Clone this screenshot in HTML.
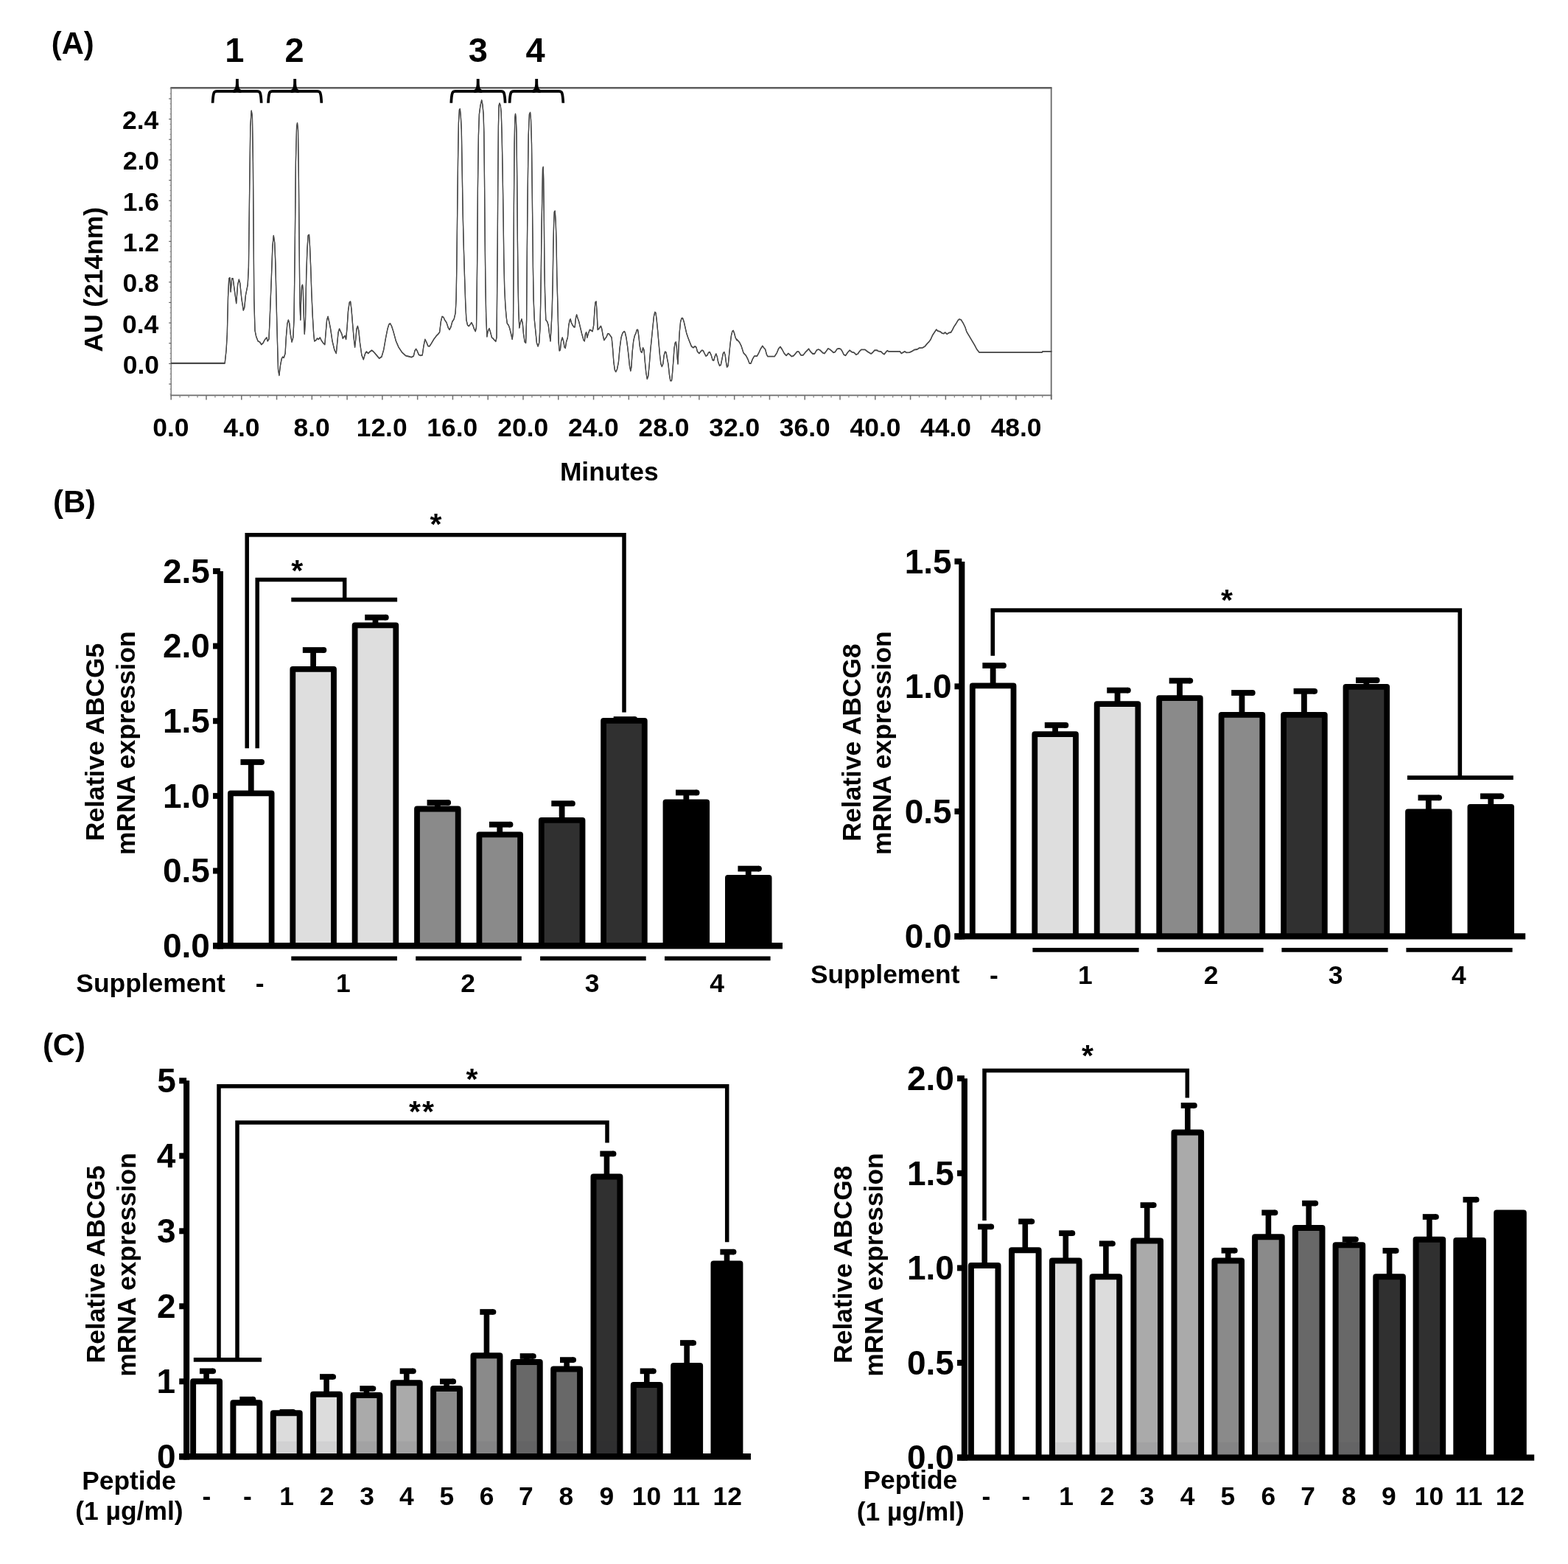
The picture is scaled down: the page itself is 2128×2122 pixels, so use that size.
<!DOCTYPE html>
<html><head><meta charset="utf-8"><title>Figure</title>
<style>
html,body{margin:0;padding:0;background:#fff;}
svg{display:block;}
text{font-family:"Liberation Sans", Arial, Helvetica, sans-serif;font-weight:bold;fill:#000;}
</style></head>
<body>
<svg width="2128" height="2122" viewBox="0 0 2128 2122">
<rect x="0" y="0" width="2128" height="2122" fill="#fff"/>
<line x1="231.35" y1="119.25" x2="1427.60" y2="119.25" stroke="#5e5e5e" stroke-width="2.5"/>
<line x1="232.20" y1="119.25" x2="232.20" y2="537.30" stroke="#707070" stroke-width="1.35"/>
<line x1="231.35" y1="536.40" x2="1427.60" y2="536.40" stroke="#6c6c6c" stroke-width="1.9"/>
<line x1="1426.70" y1="119.25" x2="1426.70" y2="541.90" stroke="#6a6a6a" stroke-width="1.8"/>
<line x1="229.20" y1="521.05" x2="232.20" y2="521.05" stroke="#606060" stroke-width="1.2"/>
<line x1="230.60" y1="514.14" x2="232.20" y2="514.14" stroke="#888" stroke-width="1.0"/>
<line x1="230.60" y1="507.22" x2="232.20" y2="507.22" stroke="#888" stroke-width="1.0"/>
<line x1="230.60" y1="500.31" x2="232.20" y2="500.31" stroke="#888" stroke-width="1.0"/>
<line x1="229.20" y1="493.40" x2="232.20" y2="493.40" stroke="#606060" stroke-width="1.2"/>
<line x1="230.60" y1="486.49" x2="232.20" y2="486.49" stroke="#888" stroke-width="1.0"/>
<line x1="230.60" y1="479.57" x2="232.20" y2="479.57" stroke="#888" stroke-width="1.0"/>
<line x1="230.60" y1="472.66" x2="232.20" y2="472.66" stroke="#888" stroke-width="1.0"/>
<line x1="229.20" y1="465.75" x2="232.20" y2="465.75" stroke="#606060" stroke-width="1.2"/>
<line x1="230.60" y1="458.84" x2="232.20" y2="458.84" stroke="#888" stroke-width="1.0"/>
<line x1="230.60" y1="451.93" x2="232.20" y2="451.93" stroke="#888" stroke-width="1.0"/>
<line x1="230.60" y1="445.01" x2="232.20" y2="445.01" stroke="#888" stroke-width="1.0"/>
<line x1="229.20" y1="438.10" x2="232.20" y2="438.10" stroke="#606060" stroke-width="1.2"/>
<line x1="230.60" y1="431.19" x2="232.20" y2="431.19" stroke="#888" stroke-width="1.0"/>
<line x1="230.60" y1="424.27" x2="232.20" y2="424.27" stroke="#888" stroke-width="1.0"/>
<line x1="230.60" y1="417.36" x2="232.20" y2="417.36" stroke="#888" stroke-width="1.0"/>
<line x1="229.20" y1="410.45" x2="232.20" y2="410.45" stroke="#606060" stroke-width="1.2"/>
<line x1="230.60" y1="403.54" x2="232.20" y2="403.54" stroke="#888" stroke-width="1.0"/>
<line x1="230.60" y1="396.62" x2="232.20" y2="396.62" stroke="#888" stroke-width="1.0"/>
<line x1="230.60" y1="389.71" x2="232.20" y2="389.71" stroke="#888" stroke-width="1.0"/>
<line x1="229.20" y1="382.80" x2="232.20" y2="382.80" stroke="#606060" stroke-width="1.2"/>
<line x1="230.60" y1="375.89" x2="232.20" y2="375.89" stroke="#888" stroke-width="1.0"/>
<line x1="230.60" y1="368.97" x2="232.20" y2="368.97" stroke="#888" stroke-width="1.0"/>
<line x1="230.60" y1="362.06" x2="232.20" y2="362.06" stroke="#888" stroke-width="1.0"/>
<line x1="229.20" y1="355.15" x2="232.20" y2="355.15" stroke="#606060" stroke-width="1.2"/>
<line x1="230.60" y1="348.24" x2="232.20" y2="348.24" stroke="#888" stroke-width="1.0"/>
<line x1="230.60" y1="341.32" x2="232.20" y2="341.32" stroke="#888" stroke-width="1.0"/>
<line x1="230.60" y1="334.41" x2="232.20" y2="334.41" stroke="#888" stroke-width="1.0"/>
<line x1="229.20" y1="327.50" x2="232.20" y2="327.50" stroke="#606060" stroke-width="1.2"/>
<line x1="230.60" y1="320.59" x2="232.20" y2="320.59" stroke="#888" stroke-width="1.0"/>
<line x1="230.60" y1="313.68" x2="232.20" y2="313.68" stroke="#888" stroke-width="1.0"/>
<line x1="230.60" y1="306.76" x2="232.20" y2="306.76" stroke="#888" stroke-width="1.0"/>
<line x1="229.20" y1="299.85" x2="232.20" y2="299.85" stroke="#606060" stroke-width="1.2"/>
<line x1="230.60" y1="292.94" x2="232.20" y2="292.94" stroke="#888" stroke-width="1.0"/>
<line x1="230.60" y1="286.03" x2="232.20" y2="286.03" stroke="#888" stroke-width="1.0"/>
<line x1="230.60" y1="279.11" x2="232.20" y2="279.11" stroke="#888" stroke-width="1.0"/>
<line x1="229.20" y1="272.20" x2="232.20" y2="272.20" stroke="#606060" stroke-width="1.2"/>
<line x1="230.60" y1="265.29" x2="232.20" y2="265.29" stroke="#888" stroke-width="1.0"/>
<line x1="230.60" y1="258.38" x2="232.20" y2="258.38" stroke="#888" stroke-width="1.0"/>
<line x1="230.60" y1="251.46" x2="232.20" y2="251.46" stroke="#888" stroke-width="1.0"/>
<line x1="229.20" y1="244.55" x2="232.20" y2="244.55" stroke="#606060" stroke-width="1.2"/>
<line x1="230.60" y1="237.64" x2="232.20" y2="237.64" stroke="#888" stroke-width="1.0"/>
<line x1="230.60" y1="230.72" x2="232.20" y2="230.72" stroke="#888" stroke-width="1.0"/>
<line x1="230.60" y1="223.81" x2="232.20" y2="223.81" stroke="#888" stroke-width="1.0"/>
<line x1="229.20" y1="216.90" x2="232.20" y2="216.90" stroke="#606060" stroke-width="1.2"/>
<line x1="230.60" y1="209.99" x2="232.20" y2="209.99" stroke="#888" stroke-width="1.0"/>
<line x1="230.60" y1="203.07" x2="232.20" y2="203.07" stroke="#888" stroke-width="1.0"/>
<line x1="230.60" y1="196.16" x2="232.20" y2="196.16" stroke="#888" stroke-width="1.0"/>
<line x1="229.20" y1="189.25" x2="232.20" y2="189.25" stroke="#606060" stroke-width="1.2"/>
<line x1="230.60" y1="182.34" x2="232.20" y2="182.34" stroke="#888" stroke-width="1.0"/>
<line x1="230.60" y1="175.43" x2="232.20" y2="175.43" stroke="#888" stroke-width="1.0"/>
<line x1="230.60" y1="168.51" x2="232.20" y2="168.51" stroke="#888" stroke-width="1.0"/>
<line x1="229.20" y1="161.60" x2="232.20" y2="161.60" stroke="#606060" stroke-width="1.2"/>
<line x1="230.60" y1="154.69" x2="232.20" y2="154.69" stroke="#888" stroke-width="1.0"/>
<line x1="230.60" y1="147.78" x2="232.20" y2="147.78" stroke="#888" stroke-width="1.0"/>
<line x1="230.60" y1="140.86" x2="232.20" y2="140.86" stroke="#888" stroke-width="1.0"/>
<line x1="229.20" y1="133.95" x2="232.20" y2="133.95" stroke="#606060" stroke-width="1.2"/>
<line x1="230.60" y1="127.04" x2="232.20" y2="127.04" stroke="#888" stroke-width="1.0"/>
<line x1="230.60" y1="120.12" x2="232.20" y2="120.12" stroke="#888" stroke-width="1.0"/>
<line x1="230.60" y1="527.96" x2="232.20" y2="527.96" stroke="#888" stroke-width="1.0"/>
<line x1="230.60" y1="534.88" x2="232.20" y2="534.88" stroke="#888" stroke-width="1.0"/>
<line x1="232.20" y1="536.40" x2="232.20" y2="542.40" stroke="#707070" stroke-width="1.5"/>
<line x1="244.14" y1="536.40" x2="244.14" y2="539.40" stroke="#858585" stroke-width="1.2"/>
<line x1="256.09" y1="536.40" x2="256.09" y2="539.40" stroke="#858585" stroke-width="1.2"/>
<line x1="268.03" y1="536.40" x2="268.03" y2="539.40" stroke="#858585" stroke-width="1.2"/>
<line x1="279.98" y1="536.40" x2="279.98" y2="542.40" stroke="#707070" stroke-width="1.5"/>
<line x1="291.93" y1="536.40" x2="291.93" y2="539.40" stroke="#858585" stroke-width="1.2"/>
<line x1="303.87" y1="536.40" x2="303.87" y2="539.40" stroke="#858585" stroke-width="1.2"/>
<line x1="315.81" y1="536.40" x2="315.81" y2="539.40" stroke="#858585" stroke-width="1.2"/>
<line x1="327.76" y1="536.40" x2="327.76" y2="542.40" stroke="#707070" stroke-width="1.5"/>
<line x1="339.70" y1="536.40" x2="339.70" y2="539.40" stroke="#858585" stroke-width="1.2"/>
<line x1="351.65" y1="536.40" x2="351.65" y2="539.40" stroke="#858585" stroke-width="1.2"/>
<line x1="363.60" y1="536.40" x2="363.60" y2="539.40" stroke="#858585" stroke-width="1.2"/>
<line x1="375.54" y1="536.40" x2="375.54" y2="542.40" stroke="#707070" stroke-width="1.5"/>
<line x1="387.49" y1="536.40" x2="387.49" y2="539.40" stroke="#858585" stroke-width="1.2"/>
<line x1="399.43" y1="536.40" x2="399.43" y2="539.40" stroke="#858585" stroke-width="1.2"/>
<line x1="411.38" y1="536.40" x2="411.38" y2="539.40" stroke="#858585" stroke-width="1.2"/>
<line x1="423.32" y1="536.40" x2="423.32" y2="542.40" stroke="#707070" stroke-width="1.5"/>
<line x1="435.26" y1="536.40" x2="435.26" y2="539.40" stroke="#858585" stroke-width="1.2"/>
<line x1="447.21" y1="536.40" x2="447.21" y2="539.40" stroke="#858585" stroke-width="1.2"/>
<line x1="459.15" y1="536.40" x2="459.15" y2="539.40" stroke="#858585" stroke-width="1.2"/>
<line x1="471.10" y1="536.40" x2="471.10" y2="542.40" stroke="#707070" stroke-width="1.5"/>
<line x1="483.04" y1="536.40" x2="483.04" y2="539.40" stroke="#858585" stroke-width="1.2"/>
<line x1="494.99" y1="536.40" x2="494.99" y2="539.40" stroke="#858585" stroke-width="1.2"/>
<line x1="506.94" y1="536.40" x2="506.94" y2="539.40" stroke="#858585" stroke-width="1.2"/>
<line x1="518.88" y1="536.40" x2="518.88" y2="542.40" stroke="#707070" stroke-width="1.5"/>
<line x1="530.83" y1="536.40" x2="530.83" y2="539.40" stroke="#858585" stroke-width="1.2"/>
<line x1="542.77" y1="536.40" x2="542.77" y2="539.40" stroke="#858585" stroke-width="1.2"/>
<line x1="554.71" y1="536.40" x2="554.71" y2="539.40" stroke="#858585" stroke-width="1.2"/>
<line x1="566.66" y1="536.40" x2="566.66" y2="542.40" stroke="#707070" stroke-width="1.5"/>
<line x1="578.61" y1="536.40" x2="578.61" y2="539.40" stroke="#858585" stroke-width="1.2"/>
<line x1="590.55" y1="536.40" x2="590.55" y2="539.40" stroke="#858585" stroke-width="1.2"/>
<line x1="602.50" y1="536.40" x2="602.50" y2="539.40" stroke="#858585" stroke-width="1.2"/>
<line x1="614.44" y1="536.40" x2="614.44" y2="542.40" stroke="#707070" stroke-width="1.5"/>
<line x1="626.38" y1="536.40" x2="626.38" y2="539.40" stroke="#858585" stroke-width="1.2"/>
<line x1="638.33" y1="536.40" x2="638.33" y2="539.40" stroke="#858585" stroke-width="1.2"/>
<line x1="650.27" y1="536.40" x2="650.27" y2="539.40" stroke="#858585" stroke-width="1.2"/>
<line x1="662.22" y1="536.40" x2="662.22" y2="542.40" stroke="#707070" stroke-width="1.5"/>
<line x1="674.16" y1="536.40" x2="674.16" y2="539.40" stroke="#858585" stroke-width="1.2"/>
<line x1="686.11" y1="536.40" x2="686.11" y2="539.40" stroke="#858585" stroke-width="1.2"/>
<line x1="698.06" y1="536.40" x2="698.06" y2="539.40" stroke="#858585" stroke-width="1.2"/>
<line x1="710.00" y1="536.40" x2="710.00" y2="542.40" stroke="#707070" stroke-width="1.5"/>
<line x1="721.94" y1="536.40" x2="721.94" y2="539.40" stroke="#858585" stroke-width="1.2"/>
<line x1="733.89" y1="536.40" x2="733.89" y2="539.40" stroke="#858585" stroke-width="1.2"/>
<line x1="745.84" y1="536.40" x2="745.84" y2="539.40" stroke="#858585" stroke-width="1.2"/>
<line x1="757.78" y1="536.40" x2="757.78" y2="542.40" stroke="#707070" stroke-width="1.5"/>
<line x1="769.72" y1="536.40" x2="769.72" y2="539.40" stroke="#858585" stroke-width="1.2"/>
<line x1="781.67" y1="536.40" x2="781.67" y2="539.40" stroke="#858585" stroke-width="1.2"/>
<line x1="793.62" y1="536.40" x2="793.62" y2="539.40" stroke="#858585" stroke-width="1.2"/>
<line x1="805.56" y1="536.40" x2="805.56" y2="542.40" stroke="#707070" stroke-width="1.5"/>
<line x1="817.51" y1="536.40" x2="817.51" y2="539.40" stroke="#858585" stroke-width="1.2"/>
<line x1="829.45" y1="536.40" x2="829.45" y2="539.40" stroke="#858585" stroke-width="1.2"/>
<line x1="841.39" y1="536.40" x2="841.39" y2="539.40" stroke="#858585" stroke-width="1.2"/>
<line x1="853.34" y1="536.40" x2="853.34" y2="542.40" stroke="#707070" stroke-width="1.5"/>
<line x1="865.29" y1="536.40" x2="865.29" y2="539.40" stroke="#858585" stroke-width="1.2"/>
<line x1="877.23" y1="536.40" x2="877.23" y2="539.40" stroke="#858585" stroke-width="1.2"/>
<line x1="889.17" y1="536.40" x2="889.17" y2="539.40" stroke="#858585" stroke-width="1.2"/>
<line x1="901.12" y1="536.40" x2="901.12" y2="542.40" stroke="#707070" stroke-width="1.5"/>
<line x1="913.07" y1="536.40" x2="913.07" y2="539.40" stroke="#858585" stroke-width="1.2"/>
<line x1="925.01" y1="536.40" x2="925.01" y2="539.40" stroke="#858585" stroke-width="1.2"/>
<line x1="936.95" y1="536.40" x2="936.95" y2="539.40" stroke="#858585" stroke-width="1.2"/>
<line x1="948.90" y1="536.40" x2="948.90" y2="542.40" stroke="#707070" stroke-width="1.5"/>
<line x1="960.85" y1="536.40" x2="960.85" y2="539.40" stroke="#858585" stroke-width="1.2"/>
<line x1="972.79" y1="536.40" x2="972.79" y2="539.40" stroke="#858585" stroke-width="1.2"/>
<line x1="984.73" y1="536.40" x2="984.73" y2="539.40" stroke="#858585" stroke-width="1.2"/>
<line x1="996.68" y1="536.40" x2="996.68" y2="542.40" stroke="#707070" stroke-width="1.5"/>
<line x1="1008.62" y1="536.40" x2="1008.62" y2="539.40" stroke="#858585" stroke-width="1.2"/>
<line x1="1020.57" y1="536.40" x2="1020.57" y2="539.40" stroke="#858585" stroke-width="1.2"/>
<line x1="1032.52" y1="536.40" x2="1032.52" y2="539.40" stroke="#858585" stroke-width="1.2"/>
<line x1="1044.46" y1="536.40" x2="1044.46" y2="542.40" stroke="#707070" stroke-width="1.5"/>
<line x1="1056.40" y1="536.40" x2="1056.40" y2="539.40" stroke="#858585" stroke-width="1.2"/>
<line x1="1068.35" y1="536.40" x2="1068.35" y2="539.40" stroke="#858585" stroke-width="1.2"/>
<line x1="1080.30" y1="536.40" x2="1080.30" y2="539.40" stroke="#858585" stroke-width="1.2"/>
<line x1="1092.24" y1="536.40" x2="1092.24" y2="542.40" stroke="#707070" stroke-width="1.5"/>
<line x1="1104.18" y1="536.40" x2="1104.18" y2="539.40" stroke="#858585" stroke-width="1.2"/>
<line x1="1116.13" y1="536.40" x2="1116.13" y2="539.40" stroke="#858585" stroke-width="1.2"/>
<line x1="1128.08" y1="536.40" x2="1128.08" y2="539.40" stroke="#858585" stroke-width="1.2"/>
<line x1="1140.02" y1="536.40" x2="1140.02" y2="542.40" stroke="#707070" stroke-width="1.5"/>
<line x1="1151.96" y1="536.40" x2="1151.96" y2="539.40" stroke="#858585" stroke-width="1.2"/>
<line x1="1163.91" y1="536.40" x2="1163.91" y2="539.40" stroke="#858585" stroke-width="1.2"/>
<line x1="1175.86" y1="536.40" x2="1175.86" y2="539.40" stroke="#858585" stroke-width="1.2"/>
<line x1="1187.80" y1="536.40" x2="1187.80" y2="542.40" stroke="#707070" stroke-width="1.5"/>
<line x1="1199.75" y1="536.40" x2="1199.75" y2="539.40" stroke="#858585" stroke-width="1.2"/>
<line x1="1211.69" y1="536.40" x2="1211.69" y2="539.40" stroke="#858585" stroke-width="1.2"/>
<line x1="1223.63" y1="536.40" x2="1223.63" y2="539.40" stroke="#858585" stroke-width="1.2"/>
<line x1="1235.58" y1="536.40" x2="1235.58" y2="542.40" stroke="#707070" stroke-width="1.5"/>
<line x1="1247.53" y1="536.40" x2="1247.53" y2="539.40" stroke="#858585" stroke-width="1.2"/>
<line x1="1259.47" y1="536.40" x2="1259.47" y2="539.40" stroke="#858585" stroke-width="1.2"/>
<line x1="1271.41" y1="536.40" x2="1271.41" y2="539.40" stroke="#858585" stroke-width="1.2"/>
<line x1="1283.36" y1="536.40" x2="1283.36" y2="542.40" stroke="#707070" stroke-width="1.5"/>
<line x1="1295.31" y1="536.40" x2="1295.31" y2="539.40" stroke="#858585" stroke-width="1.2"/>
<line x1="1307.25" y1="536.40" x2="1307.25" y2="539.40" stroke="#858585" stroke-width="1.2"/>
<line x1="1319.20" y1="536.40" x2="1319.20" y2="539.40" stroke="#858585" stroke-width="1.2"/>
<line x1="1331.14" y1="536.40" x2="1331.14" y2="542.40" stroke="#707070" stroke-width="1.5"/>
<line x1="1343.09" y1="536.40" x2="1343.09" y2="539.40" stroke="#858585" stroke-width="1.2"/>
<line x1="1355.03" y1="536.40" x2="1355.03" y2="539.40" stroke="#858585" stroke-width="1.2"/>
<line x1="1366.98" y1="536.40" x2="1366.98" y2="539.40" stroke="#858585" stroke-width="1.2"/>
<line x1="1378.92" y1="536.40" x2="1378.92" y2="542.40" stroke="#707070" stroke-width="1.5"/>
<line x1="1390.87" y1="536.40" x2="1390.87" y2="539.40" stroke="#858585" stroke-width="1.2"/>
<line x1="1402.81" y1="536.40" x2="1402.81" y2="539.40" stroke="#858585" stroke-width="1.2"/>
<line x1="1414.76" y1="536.40" x2="1414.76" y2="539.40" stroke="#858585" stroke-width="1.2"/>
<line x1="1426.70" y1="536.40" x2="1426.70" y2="542.40" stroke="#707070" stroke-width="1.5"/>
<polyline points="231.9,492.3 305.2,492.3 307.1,474.4 308.3,452.9 309.5,402.8 310.7,377.7 311.9,376.5 313.1,395.6 314.7,377.7 316.2,377.7 317.9,390.9 320.7,411.2 322.6,386.1 324.3,378.9 325.7,383.7 327.9,405.2 330.3,420.7 331.7,417.1 333.4,400.4 336.2,386.1 337.4,362.2 338.6,262.0 339.8,171.3 341.2,149.8 342.4,157.0 343.4,219.0 344.1,314.5 344.8,405.2 346.0,448.1 347.7,456.5 350.1,462.5 352.5,463.7 354.8,467.2 357.2,464.9 358.9,461.3 360.8,458.9 362.0,457.7 363.2,462.5 364.9,460.1 366.1,433.8 368.0,386.1 369.9,333.6 371.3,319.3 372.7,328.8 373.9,357.5 375.1,410.0 376.3,457.7 377.5,500.7 378.9,509.0 380.4,495.9 382.3,486.3 383.7,483.9 385.2,485.1 387.1,479.2 388.3,457.7 389.9,438.6 391.4,433.8 392.8,438.6 394.2,452.9 396.1,463.7 397.8,457.7 399.0,433.8 400.2,338.4 401.4,219.0 402.6,171.3 403.5,166.5 404.5,176.1 405.4,242.9 406.2,338.4 406.9,410.0 407.8,433.8 408.5,410.0 409.5,388.5 410.5,386.1 411.4,393.3 412.1,421.9 413.3,452.9 414.5,433.8 415.7,374.2 416.9,338.4 418.1,319.3 419.5,318.1 420.5,333.6 421.7,362.2 422.9,398.0 424.3,429.1 425.7,452.9 426.7,462.5 428.8,461.3 430.5,458.9 432.4,460.1 434.3,457.7 436.0,461.3 438.4,464.9 440.8,467.2 442.0,452.9 443.6,433.8 445.1,429.1 446.7,436.2 448.6,445.8 451.0,462.5 453.9,474.4 456.3,479.2 457.5,467.2 459.1,450.5 460.6,445.8 462.2,449.3 463.9,452.9 465.3,458.9 467.0,456.5 468.2,455.3 469.6,460.1 471.1,443.4 472.5,421.9 474.2,410.0 475.6,408.8 477.0,419.5 478.5,438.6 480.1,457.7 481.6,470.8 482.5,462.5 484.0,445.8 485.4,442.2 486.8,448.1 488.5,464.9 490.9,481.6 493.3,487.5 495.7,479.2 497.3,476.8 499.7,479.2 502.1,476.8 504.5,474.9 506.9,476.8 510.0,480.4 514.7,485.9 517.9,483.9 520.7,474.4 523.6,457.7 526.0,445.8 527.9,439.8 529.5,438.6 531.5,442.2 533.8,449.3 537.4,462.5 541.0,470.8 545.8,478.0 550.5,482.3 554.1,483.2 558.4,484.4 561.3,482.8 563.0,475.6 564.6,473.2 566.1,475.6 568.4,481.1 570.8,482.0 573.2,481.6 574.9,469.6 576.8,460.1 578.7,463.7 580.9,469.2 582.8,469.6 585.2,466.0 588.7,460.1 592.3,455.3 594.7,452.9 596.6,450.5 598.3,436.2 600.0,429.1 601.9,430.2 603.6,433.8 606.0,437.4 608.4,444.6 610.0,447.0 611.9,443.4 613.8,436.2 616.2,432.6 618.1,424.3 619.1,405.2 619.8,362.2 620.5,302.6 621.5,219.0 622.4,166.5 623.4,148.6 624.3,147.4 625.3,157.0 626.3,176.1 627.2,231.0 628.2,290.6 629.4,338.4 630.5,374.2 631.7,410.0 632.9,433.8 634.6,441.0 636.3,442.2 638.2,439.8 639.9,437.4 641.8,441.0 643.4,445.8 645.3,449.3 646.5,443.4 647.0,410.0 647.7,350.3 648.4,254.8 649.4,183.2 650.4,154.6 652.0,142.7 653.7,135.5 654.9,141.5 656.1,154.6 656.8,178.5 657.5,242.9 658.2,326.4 658.9,386.1 659.7,429.1 660.9,456.5 662.1,449.3 664.0,445.3 665.6,450.5 667.5,457.7 669.2,458.9 671.1,461.3 672.8,462.9 674.0,457.7 674.5,410.0 675.2,333.6 675.7,254.8 676.4,171.3 677.1,142.7 678.0,139.8 679.2,142.7 680.2,152.2 681.1,180.8 682.1,231.0 683.1,295.4 683.8,350.3 684.7,390.9 685.9,414.7 687.1,429.1 688.3,438.6 690.2,441.0 691.9,445.8 693.6,452.9 695.2,460.1 696.4,450.5 696.9,386.1 697.4,278.7 698.1,195.2 698.8,159.4 699.5,154.1 700.2,159.4 701.0,178.5 701.7,242.9 702.4,326.4 703.1,386.1 703.8,421.9 704.8,444.6 706.2,437.4 707.9,432.6 709.3,438.6 710.5,452.9 712.2,463.7 713.6,464.9 714.6,433.8 715.3,343.1 716.2,254.8 717.2,183.2 718.4,154.6 719.6,152.2 720.5,161.8 721.5,195.2 722.2,254.8 722.9,314.5 723.4,362.2 724.1,405.2 725.3,433.8 727.0,450.5 728.4,464.9 730.1,469.6 731.7,464.9 732.9,445.8 733.7,410.0 734.4,362.2 735.1,302.6 735.8,266.8 736.5,228.6 737.2,226.2 737.7,242.9 738.4,302.6 738.9,362.2 739.6,398.0 740.8,433.8 742.7,436.2 744.2,441.0 745.6,452.9 747.0,462.5 748.0,445.8 749.2,421.9 750.1,386.1 750.8,338.4 751.6,302.6 752.3,287.1 753.2,285.9 754.2,300.2 755.1,328.8 755.8,374.2 756.8,410.0 757.5,438.6 758.2,464.9 759.2,475.6 760.4,474.4 761.6,462.5 763.2,457.7 764.7,462.5 766.1,470.8 767.3,472.0 768.5,463.7 770.4,457.7 771.8,441.0 773.3,433.8 774.2,432.6 775.4,437.4 777.1,441.0 779.0,443.4 780.2,443.4 781.4,431.4 782.6,426.7 784.0,431.4 785.7,436.2 787.4,443.4 789.7,452.9 792.1,461.3 793.3,462.5 794.5,452.9 795.7,450.5 796.9,457.7 798.6,451.7 800.5,447.0 802.4,448.1 804.1,449.3 805.7,441.0 806.9,421.9 807.9,410.0 809.1,408.8 810.0,421.9 811.2,447.0 812.9,445.8 814.3,443.4 815.5,442.2 816.7,445.8 818.4,455.3 819.8,461.3 821.5,458.9 823.2,456.5 824.8,452.4 826.7,452.9 828.4,455.3 830.1,457.7 831.5,472.0 832.9,491.1 834.4,501.8 835.8,504.2 837.5,500.7 839.4,491.1 841.1,472.0 843.0,457.7 844.9,451.7 847.0,449.3 848.2,450.5 849.9,457.7 851.6,469.6 853.0,481.6 854.4,495.9 855.8,503.0 856.8,498.3 858.2,476.8 859.7,462.5 861.3,455.3 863.0,451.7 864.4,447.0 865.6,447.0 866.8,455.3 868.3,469.6 869.7,476.8 871.1,478.0 872.6,471.5 874.0,474.4 875.4,491.1 876.8,505.4 878.3,513.8 879.7,510.2 881.1,495.9 882.8,474.4 884.5,457.7 885.9,443.4 887.4,429.1 888.8,423.1 890.0,424.3 891.2,433.8 892.6,448.1 894.0,464.9 895.5,481.6 896.9,493.5 898.3,497.1 899.8,493.5 901.2,481.6 902.6,476.8 904.1,478.0 905.5,486.3 906.9,493.5 908.4,507.8 909.8,516.2 911.5,516.2 912.6,505.4 914.1,486.3 915.0,472.0 916.2,464.9 917.4,463.7 918.4,472.0 919.3,486.3 920.0,493.5 921.0,472.0 922.2,450.5 923.6,436.2 925.1,431.4 926.5,431.4 928.2,436.2 929.8,443.4 931.7,451.7 933.7,457.7 936.0,463.7 938.4,469.6 940.8,471.5 943.2,469.6 944.9,470.8 946.5,476.8 948.9,479.2 950.8,476.8 952.7,474.9 954.4,475.6 956.1,479.2 958.0,482.8 959.9,481.6 961.6,478.0 963.2,477.3 965.2,481.6 967.1,488.2 968.7,488.7 970.4,482.8 971.8,479.7 973.3,483.9 974.7,491.1 976.6,495.9 978.3,494.7 980.0,486.3 981.4,479.2 982.8,477.3 984.2,481.6 985.4,491.1 986.6,497.8 988.1,495.9 989.5,481.6 990.9,467.2 992.4,455.3 993.8,449.3 995.2,448.1 996.7,452.4 998.1,457.7 1000.0,461.3 1000.0,460.2 1003.6,464.2 1006.0,469.0 1009.0,478.5 1012.4,482.1 1014.8,486.8 1017.1,492.8 1019.0,492.8 1021.4,486.8 1023.8,482.8 1027.4,482.8 1029.8,478.5 1032.1,473.3 1034.8,469.0 1036.9,471.8 1038.6,473.7 1040.5,480.9 1041.9,483.3 1051.2,483.3 1054.3,478.5 1056.7,472.6 1059.0,470.2 1061.4,473.7 1064.3,479.2 1067.1,482.1 1069.8,479.2 1071.9,480.9 1074.3,483.3 1076.7,482.6 1079.0,480.2 1081.7,476.8 1084.0,476.8 1086.9,481.6 1090.0,481.6 1092.9,477.8 1095.2,475.4 1097.6,473.0 1100.0,476.8 1102.9,479.7 1105.5,479.7 1108.3,474.9 1110.7,473.7 1113.1,474.9 1116.7,478.5 1119.0,479.2 1121.4,476.1 1123.8,472.6 1126.2,473.7 1128.6,475.7 1131.0,478.0 1133.3,477.3 1136.2,473.0 1138.6,472.6 1141.0,473.3 1142.9,476.1 1145.2,480.9 1147.6,482.1 1150.5,477.8 1153.1,474.9 1156.0,477.3 1159.0,478.0 1161.9,480.9 1164.3,479.7 1166.7,476.1 1169.0,474.0 1173.8,474.0 1177.4,476.8 1182.1,479.7 1184.5,477.8 1186.9,474.9 1190.5,474.9 1191.7,476.1 1195.7,476.8 1198.1,479.2 1200.0,480.4 1202.4,477.3 1204.3,475.4 1206.0,476.6 1221.4,476.6 1223.3,479.2 1225.7,477.8 1227.9,476.6 1229.8,478.0 1234.5,477.8 1238.1,476.1 1241.0,474.2 1244.8,473.7 1247.6,471.8 1251.9,471.6 1255.2,469.7 1258.3,465.9 1260.7,463.5 1263.1,460.2 1265.5,454.7 1267.9,451.1 1270.7,446.8 1272.6,448.7 1275.7,449.5 1278.6,451.8 1281.0,452.3 1282.6,450.7 1285.2,453.0 1288.1,451.1 1290.5,450.7 1292.4,447.6 1294.8,442.8 1297.6,438.7 1300.0,434.5 1301.9,432.8 1304.3,433.5 1307.1,438.0 1310.0,444.0 1311.9,449.9 1315.5,455.9 1319.0,461.8 1322.6,467.8 1325.7,473.7 1329.0,477.8 1414.3,477.8 1414.8,476.6 1427.4,476.6" fill="none" stroke="#484848" stroke-width="1.25" stroke-linejoin="round"/>
<polyline points="231.9,492.9 305.2,492.9 307.1,475.0 308.3,453.5 309.5,403.4 310.7,378.3 311.9,377.1 313.1,396.2 314.7,378.3 316.2,378.3 317.9,391.5 320.7,411.8 322.6,386.7 324.3,379.5 325.7,384.3 327.9,405.8 330.3,421.3 331.7,417.7 333.4,401.0 336.2,386.7 337.4,362.8 338.6,262.6 339.8,171.9 341.2,150.4 342.4,157.6 343.4,219.6 344.1,315.1 344.8,405.8 346.0,448.7 347.7,457.1 350.1,463.1 352.5,464.3 354.8,467.8 357.2,465.5 358.9,461.9 360.8,459.5 362.0,458.3 363.2,463.1 364.9,460.7 366.1,434.4 368.0,386.7 369.9,334.2 371.3,319.9 372.7,329.4 373.9,358.1 375.1,410.6 376.3,458.3 377.5,501.3 378.9,509.6 380.4,496.5 382.3,486.9 383.7,484.5 385.2,485.7 387.1,479.8 388.3,458.3 389.9,439.2 391.4,434.4 392.8,439.2 394.2,453.5 396.1,464.3 397.8,458.3 399.0,434.4 400.2,339.0 401.4,219.6 402.6,171.9 403.5,167.1 404.5,176.7 405.4,243.5 406.2,339.0 406.9,410.6 407.8,434.4 408.5,410.6 409.5,389.1 410.5,386.7 411.4,393.9 412.1,422.5 413.3,453.5 414.5,434.4 415.7,374.8 416.9,339.0 418.1,319.9 419.5,318.7 420.5,334.2 421.7,362.8 422.9,398.6 424.3,429.7 425.7,453.5 426.7,463.1 428.8,461.9 430.5,459.5 432.4,460.7 434.3,458.3 436.0,461.9 438.4,465.5 440.8,467.8 442.0,453.5 443.6,434.4 445.1,429.7 446.7,436.8 448.6,446.4 451.0,463.1 453.9,475.0 456.3,479.8 457.5,467.8 459.1,451.1 460.6,446.4 462.2,449.9 463.9,453.5 465.3,459.5 467.0,457.1 468.2,455.9 469.6,460.7 471.1,444.0 472.5,422.5 474.2,410.6 475.6,409.4 477.0,420.1 478.5,439.2 480.1,458.3 481.6,471.4 482.5,463.1 484.0,446.4 485.4,442.8 486.8,448.7 488.5,465.5 490.9,482.2 493.3,488.1 495.7,479.8 497.3,477.4 499.7,479.8 502.1,477.4 504.5,475.5 506.9,477.4 510.0,481.0 514.7,486.5 517.9,484.5 520.7,475.0 523.6,458.3 526.0,446.4 527.9,440.4 529.5,439.2 531.5,442.8 533.8,449.9 537.4,463.1 541.0,471.4 545.8,478.6 550.5,482.9 554.1,483.8 558.4,485.0 561.3,483.4 563.0,476.2 564.6,473.8 566.1,476.2 568.4,481.7 570.8,482.6 573.2,482.2 574.9,470.2 576.8,460.7 578.7,464.3 580.9,469.8 582.8,470.2 585.2,466.6 588.7,460.7 592.3,455.9 594.7,453.5 596.6,451.1 598.3,436.8 600.0,429.7 601.9,430.8 603.6,434.4 606.0,438.0 608.4,445.2 610.0,447.6 611.9,444.0 613.8,436.8 616.2,433.2 618.1,424.9 619.1,405.8 619.8,362.8 620.5,303.2 621.5,219.6 622.4,167.1 623.4,149.2 624.3,148.0 625.3,157.6 626.3,176.7 627.2,231.6 628.2,291.2 629.4,339.0 630.5,374.8 631.7,410.6 632.9,434.4 634.6,441.6 636.3,442.8 638.2,440.4 639.9,438.0 641.8,441.6 643.4,446.4 645.3,449.9 646.5,444.0 647.0,410.6 647.7,350.9 648.4,255.4 649.4,183.8 650.4,155.2 652.0,143.3 653.7,136.1 654.9,142.1 656.1,155.2 656.8,179.1 657.5,243.5 658.2,327.0 658.9,386.7 659.7,429.7 660.9,457.1 662.1,449.9 664.0,445.9 665.6,451.1 667.5,458.3 669.2,459.5 671.1,461.9 672.8,463.5 674.0,458.3 674.5,410.6 675.2,334.2 675.7,255.4 676.4,171.9 677.1,143.3 678.0,140.4 679.2,143.3 680.2,152.8 681.1,181.4 682.1,231.6 683.1,296.0 683.8,350.9 684.7,391.5 685.9,415.3 687.1,429.7 688.3,439.2 690.2,441.6 691.9,446.4 693.6,453.5 695.2,460.7 696.4,451.1 696.9,386.7 697.4,279.3 698.1,195.8 698.8,160.0 699.5,154.7 700.2,160.0 701.0,179.1 701.7,243.5 702.4,327.0 703.1,386.7 703.8,422.5 704.8,445.2 706.2,438.0 707.9,433.2 709.3,439.2 710.5,453.5 712.2,464.3 713.6,465.5 714.6,434.4 715.3,343.7 716.2,255.4 717.2,183.8 718.4,155.2 719.6,152.8 720.5,162.4 721.5,195.8 722.2,255.4 722.9,315.1 723.4,362.8 724.1,405.8 725.3,434.4 727.0,451.1 728.4,465.5 730.1,470.2 731.7,465.5 732.9,446.4 733.7,410.6 734.4,362.8 735.1,303.2 735.8,267.4 736.5,229.2 737.2,226.8 737.7,243.5 738.4,303.2 738.9,362.8 739.6,398.6 740.8,434.4 742.7,436.8 744.2,441.6 745.6,453.5 747.0,463.1 748.0,446.4 749.2,422.5 750.1,386.7 750.8,339.0 751.6,303.2 752.3,287.7 753.2,286.5 754.2,300.8 755.1,329.4 755.8,374.8 756.8,410.6 757.5,439.2 758.2,465.5 759.2,476.2 760.4,475.0 761.6,463.1 763.2,458.3 764.7,463.1 766.1,471.4 767.3,472.6 768.5,464.3 770.4,458.3 771.8,441.6 773.3,434.4 774.2,433.2 775.4,438.0 777.1,441.6 779.0,444.0 780.2,444.0 781.4,432.0 782.6,427.3 784.0,432.0 785.7,436.8 787.4,444.0 789.7,453.5 792.1,461.9 793.3,463.1 794.5,453.5 795.7,451.1 796.9,458.3 798.6,452.3 800.5,447.6 802.4,448.7 804.1,449.9 805.7,441.6 806.9,422.5 807.9,410.6 809.1,409.4 810.0,422.5 811.2,447.6 812.9,446.4 814.3,444.0 815.5,442.8 816.7,446.4 818.4,455.9 819.8,461.9 821.5,459.5 823.2,457.1 824.8,453.0 826.7,453.5 828.4,455.9 830.1,458.3 831.5,472.6 832.9,491.7 834.4,502.4 835.8,504.8 837.5,501.3 839.4,491.7 841.1,472.6 843.0,458.3 844.9,452.3 847.0,449.9 848.2,451.1 849.9,458.3 851.6,470.2 853.0,482.2 854.4,496.5 855.8,503.6 856.8,498.9 858.2,477.4 859.7,463.1 861.3,455.9 863.0,452.3 864.4,447.6 865.6,447.6 866.8,455.9 868.3,470.2 869.7,477.4 871.1,478.6 872.6,472.1 874.0,475.0 875.4,491.7 876.8,506.0 878.3,514.4 879.7,510.8 881.1,496.5 882.8,475.0 884.5,458.3 885.9,444.0 887.4,429.7 888.8,423.7 890.0,424.9 891.2,434.4 892.6,448.7 894.0,465.5 895.5,482.2 896.9,494.1 898.3,497.7 899.8,494.1 901.2,482.2 902.6,477.4 904.1,478.6 905.5,486.9 906.9,494.1 908.4,508.4 909.8,516.8 911.5,516.8 912.6,506.0 914.1,486.9 915.0,472.6 916.2,465.5 917.4,464.3 918.4,472.6 919.3,486.9 920.0,494.1 921.0,472.6 922.2,451.1 923.6,436.8 925.1,432.0 926.5,432.0 928.2,436.8 929.8,444.0 931.7,452.3 933.7,458.3 936.0,464.3 938.4,470.2 940.8,472.1 943.2,470.2 944.9,471.4 946.5,477.4 948.9,479.8 950.8,477.4 952.7,475.5 954.4,476.2 956.1,479.8 958.0,483.4 959.9,482.2 961.6,478.6 963.2,477.9 965.2,482.2 967.1,488.8 968.7,489.3 970.4,483.4 971.8,480.3 973.3,484.5 974.7,491.7 976.6,496.5 978.3,495.3 980.0,486.9 981.4,479.8 982.8,477.9 984.2,482.2 985.4,491.7 986.6,498.4 988.1,496.5 989.5,482.2 990.9,467.8 992.4,455.9 993.8,449.9 995.2,448.7 996.7,453.0 998.1,458.3 1000.0,461.9 1000.0,460.8 1003.6,464.8 1006.0,469.6 1009.0,479.1 1012.4,482.7 1014.8,487.4 1017.1,493.4 1019.0,493.4 1021.4,487.4 1023.8,483.4 1027.4,483.4 1029.8,479.1 1032.1,473.9 1034.8,469.6 1036.9,472.4 1038.6,474.3 1040.5,481.5 1041.9,483.9 1051.2,483.9 1054.3,479.1 1056.7,473.2 1059.0,470.8 1061.4,474.3 1064.3,479.8 1067.1,482.7 1069.8,479.8 1071.9,481.5 1074.3,483.9 1076.7,483.2 1079.0,480.8 1081.7,477.4 1084.0,477.4 1086.9,482.2 1090.0,482.2 1092.9,478.4 1095.2,476.0 1097.6,473.6 1100.0,477.4 1102.9,480.3 1105.5,480.3 1108.3,475.5 1110.7,474.3 1113.1,475.5 1116.7,479.1 1119.0,479.8 1121.4,476.7 1123.8,473.2 1126.2,474.3 1128.6,476.3 1131.0,478.6 1133.3,477.9 1136.2,473.6 1138.6,473.2 1141.0,473.9 1142.9,476.7 1145.2,481.5 1147.6,482.7 1150.5,478.4 1153.1,475.5 1156.0,477.9 1159.0,478.6 1161.9,481.5 1164.3,480.3 1166.7,476.7 1169.0,474.6 1173.8,474.6 1177.4,477.4 1182.1,480.3 1184.5,478.4 1186.9,475.5 1190.5,475.5 1191.7,476.7 1195.7,477.4 1198.1,479.8 1200.0,481.0 1202.4,477.9 1204.3,476.0 1206.0,477.2 1221.4,477.2 1223.3,479.8 1225.7,478.4 1227.9,477.2 1229.8,478.6 1234.5,478.4 1238.1,476.7 1241.0,474.8 1244.8,474.3 1247.6,472.4 1251.9,472.2 1255.2,470.3 1258.3,466.5 1260.7,464.1 1263.1,460.8 1265.5,455.3 1267.9,451.7 1270.7,447.4 1272.6,449.3 1275.7,450.1 1278.6,452.4 1281.0,452.9 1282.6,451.3 1285.2,453.6 1288.1,451.7 1290.5,451.3 1292.4,448.2 1294.8,443.4 1297.6,439.3 1300.0,435.1 1301.9,433.4 1304.3,434.1 1307.1,438.6 1310.0,444.6 1311.9,450.5 1315.5,456.5 1319.0,462.4 1322.6,468.4 1325.7,474.3 1329.0,478.4 1414.3,478.4 1414.8,477.2 1427.4,477.2" fill="none" stroke="#484848" stroke-width="1.25" stroke-linejoin="round"/>
<line x1="232.20" y1="493.00" x2="305.30" y2="493.00" stroke="#4a4a4a" stroke-width="2.1"/>
<text x="166.81" y="506.90" font-size="35.40">0.0</text>
<text x="165.97" y="451.60" font-size="35.40">0.4</text>
<text x="166.46" y="396.30" font-size="35.40">0.8</text>
<text x="166.81" y="341.00" font-size="35.40">1.2</text>
<text x="166.63" y="285.70" font-size="35.40">1.6</text>
<text x="166.81" y="230.40" font-size="35.40">2.0</text>
<text x="165.97" y="175.10" font-size="35.40">2.4</text>
<text x="207.30" y="592.20" font-size="35.40">0.0</text>
<text x="303.30" y="592.20" font-size="35.40">4.0</text>
<text x="398.55" y="592.20" font-size="35.40">8.0</text>
<text x="483.76" y="592.20" font-size="35.40">12.0</text>
<text x="579.32" y="592.20" font-size="35.40">16.0</text>
<text x="675.36" y="592.20" font-size="35.40">20.0</text>
<text x="770.92" y="592.20" font-size="35.40">24.0</text>
<text x="866.48" y="592.20" font-size="35.40">28.0</text>
<text x="962.26" y="592.20" font-size="35.40">32.0</text>
<text x="1057.82" y="592.20" font-size="35.40">36.0</text>
<text x="1153.52" y="592.20" font-size="35.40">40.0</text>
<text x="1249.08" y="592.20" font-size="35.40">44.0</text>
<text x="1344.64" y="592.20" font-size="35.40">48.0</text>
<text x="759.90" y="651.96" font-size="35.40">Minutes</text>
<text x="139.41" y="477.58" font-size="35.40" transform="rotate(-90 139.41 477.58)">AU (214nm)</text>
<text x="69.82" y="72.69" font-size="41.70">(A)</text>
<text x="72.07" y="694.74" font-size="41.70">(B)</text>
<text x="57.97" y="1432.14" font-size="41.70">(C)</text>
<text x="305.13" y="84.30" font-size="47.00">1</text>
<text x="386.38" y="84.30" font-size="47.00">2</text>
<text x="635.85" y="84.30" font-size="47.00">3</text>
<text x="713.52" y="84.30" font-size="47.00">4</text>
<path d="M288.6,139.8 C288.9,131.8 289.3,128.85 290.3,126.05 Q291.3,123.85 294.2,123.85 L349.1,123.85 Q352.0,123.85 353.0,126.05 C354.0,128.85 354.4,131.8 354.7,139.8" fill="none" stroke="#000" stroke-width="3.7" stroke-linejoin="round"/>
<path d="M320.0,107.0 L323.8,107.0 L323.9,114.0 Q324.2,121.2 327.4,122.00 L327.4,125.70 L324.9,125.70 Q322.4,125.50 321.9,124.10 Q321.4,125.50 318.9,125.70 L316.4,125.70 L316.4,122.00 Q319.6,121.2 319.9,114.0 Z" fill="#000"/>
<path d="M364.0,139.8 C364.3,131.8 364.7,128.85 365.7,126.05 Q366.7,123.85 369.6,123.85 L430.7,123.85 Q433.6,123.85 434.6,126.05 C435.6,128.85 436.0,131.8 436.3,139.8" fill="none" stroke="#000" stroke-width="3.7" stroke-linejoin="round"/>
<path d="M398.3,107.0 L402.1,107.0 L402.2,114.0 Q402.5,121.2 405.7,122.00 L405.7,125.70 L403.2,125.70 Q400.7,125.50 400.2,124.10 Q399.7,125.50 397.2,125.70 L394.7,125.70 L394.7,122.00 Q397.9,121.2 398.2,114.0 Z" fill="#000"/>
<path d="M612.3,139.8 C612.6,131.8 613.0,128.85 614.0,126.05 Q615.0,123.85 617.9,123.85 L680.0,123.85 Q682.9,123.85 683.9,126.05 C684.9,128.85 685.3,131.8 685.6,139.8" fill="none" stroke="#000" stroke-width="3.7" stroke-linejoin="round"/>
<path d="M646.8,107.0 L650.6,107.0 L650.7,114.0 Q651.0,121.2 654.2,122.00 L654.2,125.70 L651.7,125.70 Q649.2,125.50 648.7,124.10 Q648.2,125.50 645.7,125.70 L643.2,125.70 L643.2,122.00 Q646.4,121.2 646.7,114.0 Z" fill="#000"/>
<path d="M691.6,139.8 C691.9,131.8 692.3,128.85 693.3,126.05 Q694.3,123.85 697.2,123.85 L758.7,123.85 Q761.6,123.85 762.6,126.05 C763.6,128.85 764.0,131.8 764.3,139.8" fill="none" stroke="#000" stroke-width="3.7" stroke-linejoin="round"/>
<path d="M726.3,107.0 L730.1,107.0 L730.2,114.0 Q730.5,121.2 733.7,122.00 L733.7,125.70 L731.2,125.70 Q728.7,125.50 728.2,124.10 Q727.7,125.50 725.2,125.70 L722.7,125.70 L722.7,122.00 Q725.9,121.2 726.2,114.0 Z" fill="#000"/>
<line x1="340.75" y1="1034.00" x2="340.75" y2="1080.20" stroke="#000" stroke-width="7.8"/>
<line x1="326.45" y1="1034.00" x2="355.05" y2="1034.00" stroke="#000" stroke-width="7.8"/>
<circle cx="355.1" cy="1034.0" r="3.90"/>
<path d="M312.9,1283.2 L312.9,1076.3 L368.6,1076.3 L368.6,1283.2" fill="#fff" stroke="#000" stroke-width="7.8" stroke-linejoin="round"/>
<line x1="425.12" y1="882.00" x2="425.12" y2="911.80" stroke="#000" stroke-width="7.8"/>
<line x1="410.82" y1="882.00" x2="439.42" y2="882.00" stroke="#000" stroke-width="7.8"/>
<circle cx="439.4" cy="882.0" r="3.90"/>
<path d="M397.3,1283.2 L397.3,907.9 L453.0,907.9 L453.0,1283.2" fill="#dedede" stroke="#000" stroke-width="7.8" stroke-linejoin="round"/>
<line x1="509.49" y1="837.70" x2="509.49" y2="852.20" stroke="#000" stroke-width="7.8"/>
<line x1="495.19" y1="837.70" x2="523.79" y2="837.70" stroke="#000" stroke-width="7.8"/>
<circle cx="523.8" cy="837.7" r="3.90"/>
<path d="M481.6,1283.2 L481.6,848.3 L537.3,848.3 L537.3,1283.2" fill="#dedede" stroke="#000" stroke-width="7.8" stroke-linejoin="round"/>
<line x1="593.86" y1="1089.00" x2="593.86" y2="1101.40" stroke="#000" stroke-width="7.8"/>
<line x1="579.56" y1="1089.00" x2="608.16" y2="1089.00" stroke="#000" stroke-width="7.8"/>
<circle cx="608.2" cy="1089.0" r="3.90"/>
<path d="M566.0,1283.2 L566.0,1097.5 L621.7,1097.5 L621.7,1283.2" fill="#8a8a8a" stroke="#000" stroke-width="7.8" stroke-linejoin="round"/>
<line x1="678.23" y1="1118.70" x2="678.23" y2="1136.30" stroke="#000" stroke-width="7.8"/>
<line x1="663.93" y1="1118.70" x2="692.53" y2="1118.70" stroke="#000" stroke-width="7.8"/>
<circle cx="692.5" cy="1118.7" r="3.90"/>
<path d="M650.4,1283.2 L650.4,1132.4 L706.1,1132.4 L706.1,1283.2" fill="#8a8a8a" stroke="#000" stroke-width="7.8" stroke-linejoin="round"/>
<line x1="762.60" y1="1090.20" x2="762.60" y2="1116.80" stroke="#000" stroke-width="7.8"/>
<line x1="748.30" y1="1090.20" x2="776.90" y2="1090.20" stroke="#000" stroke-width="7.8"/>
<circle cx="776.9" cy="1090.2" r="3.90"/>
<path d="M734.8,1283.2 L734.8,1112.9 L790.5,1112.9 L790.5,1283.2" fill="#303030" stroke="#000" stroke-width="7.8" stroke-linejoin="round"/>
<line x1="846.97" y1="976.00" x2="846.97" y2="981.80" stroke="#000" stroke-width="7.8"/>
<line x1="832.67" y1="976.00" x2="861.27" y2="976.00" stroke="#000" stroke-width="7.8"/>
<circle cx="861.3" cy="976.0" r="3.90"/>
<path d="M819.1,1283.2 L819.1,977.9 L874.8,977.9 L874.8,1283.2" fill="#303030" stroke="#000" stroke-width="7.8" stroke-linejoin="round"/>
<line x1="931.34" y1="1075.40" x2="931.34" y2="1092.20" stroke="#000" stroke-width="7.8"/>
<line x1="917.04" y1="1075.40" x2="945.64" y2="1075.40" stroke="#000" stroke-width="7.8"/>
<circle cx="945.6" cy="1075.4" r="3.90"/>
<path d="M903.5,1283.2 L903.5,1088.3 L959.2,1088.3 L959.2,1283.2" fill="#000" stroke="#000" stroke-width="7.8" stroke-linejoin="round"/>
<line x1="1015.71" y1="1178.60" x2="1015.71" y2="1194.80" stroke="#000" stroke-width="7.8"/>
<line x1="1001.41" y1="1178.60" x2="1030.01" y2="1178.60" stroke="#000" stroke-width="7.8"/>
<circle cx="1030.0" cy="1178.6" r="3.90"/>
<path d="M987.9,1283.2 L987.9,1190.9 L1043.6,1190.9 L1043.6,1283.2" fill="#000" stroke="#000" stroke-width="7.8" stroke-linejoin="round"/>
<line x1="298.90" y1="775.00" x2="298.90" y2="1287.40" stroke="#000" stroke-width="8.1"/>
<line x1="289.05" y1="1283.20" x2="1062.00" y2="1283.20" stroke="#000" stroke-width="8.4"/>
<line x1="289.05" y1="1283.20" x2="298.90" y2="1283.20" stroke="#000" stroke-width="8.0"/>
<text x="220.90" y="1299.02" font-size="46.00">0.0</text>
<line x1="289.05" y1="1181.54" x2="298.90" y2="1181.54" stroke="#000" stroke-width="8.0"/>
<text x="220.93" y="1197.36" font-size="46.00">0.5</text>
<line x1="289.05" y1="1079.88" x2="298.90" y2="1079.88" stroke="#000" stroke-width="8.0"/>
<text x="220.90" y="1095.70" font-size="46.00">1.0</text>
<line x1="289.05" y1="978.22" x2="298.90" y2="978.22" stroke="#000" stroke-width="8.0"/>
<text x="220.93" y="994.04" font-size="46.00">1.5</text>
<line x1="289.05" y1="876.56" x2="298.90" y2="876.56" stroke="#000" stroke-width="8.0"/>
<text x="220.90" y="892.38" font-size="46.00">2.0</text>
<line x1="289.05" y1="774.90" x2="298.90" y2="774.90" stroke="#000" stroke-width="8.0"/>
<text x="220.93" y="790.72" font-size="46.00">2.5</text>
<line x1="395.30" y1="1300.40" x2="538.90" y2="1300.40" stroke="#000" stroke-width="5.6"/>
<line x1="564.20" y1="1300.40" x2="707.80" y2="1300.40" stroke="#000" stroke-width="5.6"/>
<line x1="733.10" y1="1300.40" x2="876.70" y2="1300.40" stroke="#000" stroke-width="5.6"/>
<line x1="902.00" y1="1300.40" x2="1045.60" y2="1300.40" stroke="#000" stroke-width="5.6"/>
<text x="103.30" y="1346.16" font-size="35.40">Supplement</text>
<text x="346.81" y="1346.30" font-size="35.40">-</text>
<text x="456.06" y="1346.30" font-size="35.40">1</text>
<text x="625.26" y="1346.30" font-size="35.40">2</text>
<text x="793.70" y="1346.30" font-size="35.40">3</text>
<text x="963.20" y="1346.30" font-size="35.40">4</text>
<text x="141.21" y="1141.04" font-size="35.40" transform="rotate(-90 141.21 1141.04)">Relative ABCG5</text>
<text x="183.21" y="1159.87" font-size="35.40" transform="rotate(-90 183.21 1159.87)">mRNA expression</text>
<polyline points="335.2,1015.3 335.2,725.7 847.0,725.7 847.0,966.6" fill="none" stroke="#000" stroke-width="5.5" stroke-linejoin="miter"/>
<polyline points="349.2,1015.3 349.2,786.4 467.7,786.4 467.7,813.6" fill="none" stroke="#000" stroke-width="5.5" stroke-linejoin="miter"/>
<line x1="395.30" y1="813.60" x2="539.10" y2="813.60" stroke="#000" stroke-width="5.6"/>
<text x="395.31" y="787.55" font-size="41">*</text>
<text x="583.50" y="725.15" font-size="41">*</text>
<line x1="1347.65" y1="903.00" x2="1347.65" y2="934.30" stroke="#000" stroke-width="7.8"/>
<line x1="1333.35" y1="903.00" x2="1361.95" y2="903.00" stroke="#000" stroke-width="7.8"/>
<circle cx="1362.0" cy="903.0" r="3.90"/>
<path d="M1319.8,1270.4 L1319.8,930.4 L1375.5,930.4 L1375.5,1270.4" fill="#fff" stroke="#000" stroke-width="7.8" stroke-linejoin="round"/>
<line x1="1432.10" y1="983.90" x2="1432.10" y2="1000.10" stroke="#000" stroke-width="7.8"/>
<line x1="1417.80" y1="983.90" x2="1446.40" y2="983.90" stroke="#000" stroke-width="7.8"/>
<circle cx="1446.4" cy="983.9" r="3.90"/>
<path d="M1404.3,1270.4 L1404.3,996.2 L1460.0,996.2 L1460.0,1270.4" fill="#dedede" stroke="#000" stroke-width="7.8" stroke-linejoin="round"/>
<line x1="1516.55" y1="936.60" x2="1516.55" y2="959.00" stroke="#000" stroke-width="7.8"/>
<line x1="1502.25" y1="936.60" x2="1530.85" y2="936.60" stroke="#000" stroke-width="7.8"/>
<circle cx="1530.9" cy="936.6" r="3.90"/>
<path d="M1488.7,1270.4 L1488.7,955.1 L1544.4,955.1 L1544.4,1270.4" fill="#dedede" stroke="#000" stroke-width="7.8" stroke-linejoin="round"/>
<line x1="1601.00" y1="923.60" x2="1601.00" y2="951.10" stroke="#000" stroke-width="7.8"/>
<line x1="1586.70" y1="923.60" x2="1615.30" y2="923.60" stroke="#000" stroke-width="7.8"/>
<circle cx="1615.3" cy="923.6" r="3.90"/>
<path d="M1573.2,1270.4 L1573.2,947.2 L1628.8,947.2 L1628.8,1270.4" fill="#8a8a8a" stroke="#000" stroke-width="7.8" stroke-linejoin="round"/>
<line x1="1685.45" y1="940.00" x2="1685.45" y2="973.70" stroke="#000" stroke-width="7.8"/>
<line x1="1671.15" y1="940.00" x2="1699.75" y2="940.00" stroke="#000" stroke-width="7.8"/>
<circle cx="1699.8" cy="940.0" r="3.90"/>
<path d="M1657.6,1270.4 L1657.6,969.8 L1713.3,969.8 L1713.3,1270.4" fill="#8a8a8a" stroke="#000" stroke-width="7.8" stroke-linejoin="round"/>
<line x1="1769.90" y1="937.80" x2="1769.90" y2="973.70" stroke="#000" stroke-width="7.8"/>
<line x1="1755.60" y1="937.80" x2="1784.20" y2="937.80" stroke="#000" stroke-width="7.8"/>
<circle cx="1784.2" cy="937.8" r="3.90"/>
<path d="M1742.1,1270.4 L1742.1,969.8 L1797.8,969.8 L1797.8,1270.4" fill="#303030" stroke="#000" stroke-width="7.8" stroke-linejoin="round"/>
<line x1="1854.35" y1="923.00" x2="1854.35" y2="935.70" stroke="#000" stroke-width="7.8"/>
<line x1="1840.05" y1="923.00" x2="1868.65" y2="923.00" stroke="#000" stroke-width="7.8"/>
<circle cx="1868.7" cy="923.0" r="3.90"/>
<path d="M1826.5,1270.4 L1826.5,931.8 L1882.2,931.8 L1882.2,1270.4" fill="#303030" stroke="#000" stroke-width="7.8" stroke-linejoin="round"/>
<line x1="1938.80" y1="1082.30" x2="1938.80" y2="1105.20" stroke="#000" stroke-width="7.8"/>
<line x1="1924.50" y1="1082.30" x2="1953.10" y2="1082.30" stroke="#000" stroke-width="7.8"/>
<circle cx="1953.1" cy="1082.3" r="3.90"/>
<path d="M1911.0,1270.4 L1911.0,1101.3 L1966.7,1101.3 L1966.7,1270.4" fill="#000" stroke="#000" stroke-width="7.8" stroke-linejoin="round"/>
<line x1="2023.25" y1="1080.30" x2="2023.25" y2="1098.70" stroke="#000" stroke-width="7.8"/>
<line x1="2008.95" y1="1080.30" x2="2037.55" y2="1080.30" stroke="#000" stroke-width="7.8"/>
<circle cx="2037.5" cy="1080.3" r="3.90"/>
<path d="M1995.4,1270.4 L1995.4,1094.8 L2051.1,1094.8 L2051.1,1270.4" fill="#000" stroke="#000" stroke-width="7.8" stroke-linejoin="round"/>
<line x1="1305.30" y1="761.90" x2="1305.30" y2="1274.60" stroke="#000" stroke-width="8.1"/>
<line x1="1295.45" y1="1270.40" x2="2070.20" y2="1270.40" stroke="#000" stroke-width="8.4"/>
<line x1="1295.45" y1="1270.50" x2="1305.30" y2="1270.50" stroke="#000" stroke-width="8.0"/>
<text x="1227.70" y="1286.32" font-size="46.00">0.0</text>
<line x1="1295.45" y1="1100.90" x2="1305.30" y2="1100.90" stroke="#000" stroke-width="8.0"/>
<text x="1227.72" y="1116.72" font-size="46.00">0.5</text>
<line x1="1295.45" y1="931.30" x2="1305.30" y2="931.30" stroke="#000" stroke-width="8.0"/>
<text x="1227.70" y="947.12" font-size="46.00">1.0</text>
<line x1="1295.45" y1="761.70" x2="1305.30" y2="761.70" stroke="#000" stroke-width="8.0"/>
<text x="1227.72" y="777.52" font-size="46.00">1.5</text>
<line x1="1401.40" y1="1288.80" x2="1545.60" y2="1288.80" stroke="#000" stroke-width="5.8"/>
<line x1="1570.40" y1="1288.80" x2="1714.60" y2="1288.80" stroke="#000" stroke-width="5.8"/>
<line x1="1739.40" y1="1288.80" x2="1883.60" y2="1288.80" stroke="#000" stroke-width="5.8"/>
<line x1="1908.40" y1="1288.80" x2="2052.60" y2="1288.80" stroke="#000" stroke-width="5.8"/>
<text x="1099.90" y="1334.46" font-size="35.40">Supplement</text>
<text x="1343.11" y="1334.60" font-size="35.40">-</text>
<text x="1463.06" y="1334.60" font-size="35.40">1</text>
<text x="1633.77" y="1334.60" font-size="35.40">2</text>
<text x="1802.70" y="1334.60" font-size="35.40">3</text>
<text x="1970.10" y="1334.60" font-size="35.40">4</text>
<text x="1167.61" y="1141.44" font-size="35.40" transform="rotate(-90 1167.61 1141.44)">Relative ABCG8</text>
<text x="1209.51" y="1159.87" font-size="35.40" transform="rotate(-90 1209.51 1159.87)">mRNA expression</text>
<polyline points="1347.3,889.7 1347.3,828.0 1981.3,828.0 1981.3,1055.1" fill="none" stroke="#000" stroke-width="5.6" stroke-linejoin="miter"/>
<line x1="1909.90" y1="1055.10" x2="2053.80" y2="1055.10" stroke="#000" stroke-width="5.8"/>
<text x="1656.91" y="827.55" font-size="41">*</text>
<line x1="280.05" y1="1860.30" x2="280.05" y2="1878.20" stroke="#000" stroke-width="7.6"/>
<line x1="270.95" y1="1860.30" x2="289.15" y2="1860.30" stroke="#000" stroke-width="7.7"/>
<circle cx="289.2" cy="1860.3" r="3.85"/>
<path d="M262.1,1976.3 L262.1,1874.2 L298.0,1874.2 L298.0,1976.3" fill="#fff" stroke="#000" stroke-width="8.0" stroke-linejoin="round"/>
<line x1="334.39" y1="1898.70" x2="334.39" y2="1907.20" stroke="#000" stroke-width="7.6"/>
<line x1="325.29" y1="1898.70" x2="343.49" y2="1898.70" stroke="#000" stroke-width="7.7"/>
<circle cx="343.5" cy="1898.7" r="3.85"/>
<path d="M316.4,1976.3 L316.4,1903.2 L352.3,1903.2 L352.3,1976.3" fill="#fff" stroke="#000" stroke-width="8.0" stroke-linejoin="round"/>
<line x1="388.73" y1="1915.90" x2="388.73" y2="1921.20" stroke="#000" stroke-width="7.6"/>
<line x1="379.63" y1="1915.90" x2="397.83" y2="1915.90" stroke="#000" stroke-width="7.7"/>
<circle cx="397.8" cy="1915.9" r="3.85"/>
<path d="M370.8,1976.3 L370.8,1917.2 L406.7,1917.2 L406.7,1976.3" fill="#dcdcdc" stroke="#000" stroke-width="8.0" stroke-linejoin="round"/>
<rect x="374.8" y="1955.6" width="27.9" height="17" fill="#20203a" fill-opacity="0.055"/>
<line x1="443.07" y1="1868.00" x2="443.07" y2="1895.80" stroke="#000" stroke-width="7.6"/>
<line x1="433.97" y1="1868.00" x2="452.17" y2="1868.00" stroke="#000" stroke-width="7.7"/>
<circle cx="452.2" cy="1868.0" r="3.85"/>
<path d="M425.1,1976.3 L425.1,1891.8 L461.0,1891.8 L461.0,1976.3" fill="#dcdcdc" stroke="#000" stroke-width="8.0" stroke-linejoin="round"/>
<rect x="429.1" y="1955.6" width="27.9" height="17" fill="#20203a" fill-opacity="0.055"/>
<line x1="497.41" y1="1884.00" x2="497.41" y2="1896.90" stroke="#000" stroke-width="7.6"/>
<line x1="488.31" y1="1884.00" x2="506.51" y2="1884.00" stroke="#000" stroke-width="7.7"/>
<circle cx="506.5" cy="1884.0" r="3.85"/>
<path d="M479.5,1976.3 L479.5,1892.9 L515.4,1892.9 L515.4,1976.3" fill="#aaaaaa" stroke="#000" stroke-width="8.0" stroke-linejoin="round"/>
<rect x="483.5" y="1955.6" width="27.9" height="17" fill="#20203a" fill-opacity="0.055"/>
<line x1="551.75" y1="1860.30" x2="551.75" y2="1880.30" stroke="#000" stroke-width="7.6"/>
<line x1="542.65" y1="1860.30" x2="560.85" y2="1860.30" stroke="#000" stroke-width="7.7"/>
<circle cx="560.9" cy="1860.3" r="3.85"/>
<path d="M533.8,1976.3 L533.8,1876.3 L569.7,1876.3 L569.7,1976.3" fill="#aaaaaa" stroke="#000" stroke-width="8.0" stroke-linejoin="round"/>
<rect x="537.8" y="1955.6" width="27.9" height="17" fill="#20203a" fill-opacity="0.055"/>
<line x1="606.09" y1="1874.40" x2="606.09" y2="1888.00" stroke="#000" stroke-width="7.6"/>
<line x1="596.99" y1="1874.40" x2="615.19" y2="1874.40" stroke="#000" stroke-width="7.7"/>
<circle cx="615.2" cy="1874.4" r="3.85"/>
<path d="M588.1,1976.3 L588.1,1884.0 L624.0,1884.0 L624.0,1976.3" fill="#8a8a8a" stroke="#000" stroke-width="8.0" stroke-linejoin="round"/>
<rect x="592.1" y="1955.6" width="27.9" height="17" fill="#20203a" fill-opacity="0.055"/>
<line x1="660.43" y1="1780.00" x2="660.43" y2="1843.20" stroke="#000" stroke-width="7.6"/>
<line x1="651.33" y1="1780.00" x2="669.53" y2="1780.00" stroke="#000" stroke-width="7.7"/>
<circle cx="669.5" cy="1780.0" r="3.85"/>
<path d="M642.5,1976.3 L642.5,1839.2 L678.4,1839.2 L678.4,1976.3" fill="#8a8a8a" stroke="#000" stroke-width="8.0" stroke-linejoin="round"/>
<rect x="646.5" y="1955.6" width="27.9" height="17" fill="#20203a" fill-opacity="0.055"/>
<line x1="714.77" y1="1840.00" x2="714.77" y2="1852.00" stroke="#000" stroke-width="7.6"/>
<line x1="705.67" y1="1840.00" x2="723.87" y2="1840.00" stroke="#000" stroke-width="7.7"/>
<circle cx="723.9" cy="1840.0" r="3.85"/>
<path d="M696.8,1976.3 L696.8,1848.0 L732.7,1848.0 L732.7,1976.3" fill="#686868" stroke="#000" stroke-width="8.0" stroke-linejoin="round"/>
<rect x="700.8" y="1955.6" width="27.9" height="17" fill="#20203a" fill-opacity="0.055"/>
<line x1="769.11" y1="1845.10" x2="769.11" y2="1861.60" stroke="#000" stroke-width="7.6"/>
<line x1="760.01" y1="1845.10" x2="778.21" y2="1845.10" stroke="#000" stroke-width="7.7"/>
<circle cx="778.2" cy="1845.1" r="3.85"/>
<path d="M751.2,1976.3 L751.2,1857.6 L787.1,1857.6 L787.1,1976.3" fill="#686868" stroke="#000" stroke-width="8.0" stroke-linejoin="round"/>
<rect x="755.2" y="1955.6" width="27.9" height="17" fill="#20203a" fill-opacity="0.055"/>
<line x1="823.45" y1="1565.40" x2="823.45" y2="1600.40" stroke="#000" stroke-width="7.6"/>
<line x1="814.35" y1="1565.40" x2="832.55" y2="1565.40" stroke="#000" stroke-width="7.7"/>
<circle cx="832.6" cy="1565.4" r="3.85"/>
<path d="M805.5,1976.3 L805.5,1596.4 L841.4,1596.4 L841.4,1976.3" fill="#303030" stroke="#000" stroke-width="8.0" stroke-linejoin="round"/>
<rect x="809.5" y="1955.6" width="27.9" height="17" fill="#20203a" fill-opacity="0.055"/>
<line x1="877.79" y1="1860.30" x2="877.79" y2="1883.10" stroke="#000" stroke-width="7.6"/>
<line x1="868.69" y1="1860.30" x2="886.89" y2="1860.30" stroke="#000" stroke-width="7.7"/>
<circle cx="886.9" cy="1860.3" r="3.85"/>
<path d="M859.8,1976.3 L859.8,1879.1 L895.7,1879.1 L895.7,1976.3" fill="#303030" stroke="#000" stroke-width="8.0" stroke-linejoin="round"/>
<rect x="863.8" y="1955.6" width="27.9" height="17" fill="#20203a" fill-opacity="0.055"/>
<line x1="932.13" y1="1822.00" x2="932.13" y2="1857.00" stroke="#000" stroke-width="7.6"/>
<line x1="923.03" y1="1822.00" x2="941.23" y2="1822.00" stroke="#000" stroke-width="7.7"/>
<circle cx="941.2" cy="1822.0" r="3.85"/>
<path d="M914.2,1976.3 L914.2,1853.0 L950.1,1853.0 L950.1,1976.3" fill="#000" stroke="#000" stroke-width="8.0" stroke-linejoin="round"/>
<line x1="986.47" y1="1698.60" x2="986.47" y2="1718.60" stroke="#000" stroke-width="7.6"/>
<line x1="977.37" y1="1698.60" x2="995.57" y2="1698.60" stroke="#000" stroke-width="7.7"/>
<circle cx="995.6" cy="1698.6" r="3.85"/>
<path d="M968.5,1976.3 L968.5,1714.6 L1004.4,1714.6 L1004.4,1976.3" fill="#000" stroke="#000" stroke-width="8.0" stroke-linejoin="round"/>
<line x1="253.10" y1="1466.00" x2="253.10" y2="1980.50" stroke="#000" stroke-width="8.1"/>
<line x1="243.25" y1="1976.30" x2="1019.00" y2="1976.30" stroke="#000" stroke-width="8.4"/>
<line x1="243.25" y1="1976.30" x2="253.10" y2="1976.30" stroke="#000" stroke-width="8.0"/>
<text x="213.11" y="1992.12" font-size="46.00">0</text>
<line x1="243.25" y1="1874.30" x2="253.10" y2="1874.30" stroke="#000" stroke-width="8.0"/>
<text x="212.54" y="1890.12" font-size="46.00">1</text>
<line x1="243.25" y1="1772.30" x2="253.10" y2="1772.30" stroke="#000" stroke-width="8.0"/>
<text x="213.11" y="1788.12" font-size="46.00">2</text>
<line x1="243.25" y1="1670.30" x2="253.10" y2="1670.30" stroke="#000" stroke-width="8.0"/>
<text x="212.88" y="1686.12" font-size="46.00">3</text>
<line x1="243.25" y1="1568.30" x2="253.10" y2="1568.30" stroke="#000" stroke-width="8.0"/>
<text x="212.70" y="1584.12" font-size="46.00">4</text>
<line x1="243.25" y1="1466.30" x2="253.10" y2="1466.30" stroke="#000" stroke-width="8.0"/>
<text x="213.14" y="1482.12" font-size="46.00">5</text>
<text x="111.13" y="2020.56" font-size="35.40">Peptide</text>
<text x="102.30" y="2062.47" font-size="35.40">(1 µg/ml)</text>
<text x="274.41" y="2041.60" font-size="35.40">-</text>
<text x="330.11" y="2041.60" font-size="35.40">-</text>
<text x="379.16" y="2041.60" font-size="35.40">1</text>
<text x="433.76" y="2041.60" font-size="35.40">2</text>
<text x="488.20" y="2041.60" font-size="35.40">3</text>
<text x="542.00" y="2041.60" font-size="35.40">4</text>
<text x="596.53" y="2041.60" font-size="35.40">5</text>
<text x="650.83" y="2041.60" font-size="35.40">6</text>
<text x="703.88" y="2041.60" font-size="35.40">7</text>
<text x="758.53" y="2041.60" font-size="35.40">8</text>
<text x="813.58" y="2041.60" font-size="35.40">9</text>
<text x="857.75" y="2041.60" font-size="35.40">10</text>
<text x="912.51" y="2041.60" font-size="35.40">11</text>
<text x="967.55" y="2041.60" font-size="35.40">12</text>
<text x="142.31" y="1849.39" font-size="35.40" transform="rotate(-90 142.31 1849.39)">Relative ABCG5</text>
<text x="184.36" y="1867.72" font-size="35.40" transform="rotate(-90 184.36 1867.72)">mRNA expression</text>
<polyline points="297.0,1844.4 297.0,1473.7 986.7,1473.7 986.7,1685.2" fill="none" stroke="#000" stroke-width="5.5" stroke-linejoin="miter"/>
<polyline points="322.0,1844.4 322.0,1523.0 824.0,1523.0 824.0,1550.5" fill="none" stroke="#000" stroke-width="5.5" stroke-linejoin="miter"/>
<line x1="262.80" y1="1844.90" x2="355.00" y2="1844.90" stroke="#000" stroke-width="5.6"/>
<text x="632.61" y="1478.05" font-size="41">*</text>
<text x="555.09" y="1522.25" font-size="41" letter-spacing="1.85">**</text>
<line x1="1336.20" y1="1664.40" x2="1336.20" y2="1721.10" stroke="#000" stroke-width="7.6"/>
<line x1="1327.10" y1="1664.40" x2="1345.30" y2="1664.40" stroke="#000" stroke-width="7.7"/>
<circle cx="1345.3" cy="1664.4" r="3.85"/>
<path d="M1317.9,1977.6 L1317.9,1717.1 L1354.5,1717.1 L1354.5,1977.6" fill="#fff" stroke="#000" stroke-width="8.0" stroke-linejoin="round"/>
<line x1="1391.30" y1="1657.30" x2="1391.30" y2="1700.30" stroke="#000" stroke-width="7.6"/>
<line x1="1382.20" y1="1657.30" x2="1400.40" y2="1657.30" stroke="#000" stroke-width="7.7"/>
<circle cx="1400.4" cy="1657.3" r="3.85"/>
<path d="M1373.0,1977.6 L1373.0,1696.3 L1409.6,1696.3 L1409.6,1977.6" fill="#fff" stroke="#000" stroke-width="8.0" stroke-linejoin="round"/>
<line x1="1446.30" y1="1673.20" x2="1446.30" y2="1714.40" stroke="#000" stroke-width="7.6"/>
<line x1="1437.20" y1="1673.20" x2="1455.40" y2="1673.20" stroke="#000" stroke-width="7.7"/>
<circle cx="1455.4" cy="1673.2" r="3.85"/>
<path d="M1428.0,1977.6 L1428.0,1710.4 L1464.6,1710.4 L1464.6,1977.6" fill="#dcdcdc" stroke="#000" stroke-width="8.0" stroke-linejoin="round"/>
<rect x="1432.0" y="1956.9" width="28.6" height="17" fill="#20203a" fill-opacity="0.055"/>
<line x1="1500.90" y1="1687.30" x2="1500.90" y2="1736.30" stroke="#000" stroke-width="7.6"/>
<line x1="1491.80" y1="1687.30" x2="1510.00" y2="1687.30" stroke="#000" stroke-width="7.7"/>
<circle cx="1510.0" cy="1687.3" r="3.85"/>
<path d="M1482.6,1977.6 L1482.6,1732.3 L1519.2,1732.3 L1519.2,1977.6" fill="#dcdcdc" stroke="#000" stroke-width="8.0" stroke-linejoin="round"/>
<rect x="1486.6" y="1956.9" width="28.6" height="17" fill="#20203a" fill-opacity="0.055"/>
<line x1="1556.70" y1="1635.10" x2="1556.70" y2="1687.60" stroke="#000" stroke-width="7.6"/>
<line x1="1547.60" y1="1635.10" x2="1565.80" y2="1635.10" stroke="#000" stroke-width="7.7"/>
<circle cx="1565.8" cy="1635.1" r="3.85"/>
<path d="M1538.4,1977.6 L1538.4,1683.6 L1575.0,1683.6 L1575.0,1977.6" fill="#aaaaaa" stroke="#000" stroke-width="8.0" stroke-linejoin="round"/>
<rect x="1542.4" y="1956.9" width="28.6" height="17" fill="#20203a" fill-opacity="0.055"/>
<line x1="1611.80" y1="1499.90" x2="1611.80" y2="1540.40" stroke="#000" stroke-width="7.6"/>
<line x1="1602.70" y1="1499.90" x2="1620.90" y2="1499.90" stroke="#000" stroke-width="7.7"/>
<circle cx="1620.9" cy="1499.9" r="3.85"/>
<path d="M1593.5,1977.6 L1593.5,1536.4 L1630.1,1536.4 L1630.1,1977.6" fill="#aaaaaa" stroke="#000" stroke-width="8.0" stroke-linejoin="round"/>
<rect x="1597.5" y="1956.9" width="28.6" height="17" fill="#20203a" fill-opacity="0.055"/>
<line x1="1666.70" y1="1696.70" x2="1666.70" y2="1714.40" stroke="#000" stroke-width="7.6"/>
<line x1="1657.60" y1="1696.70" x2="1675.80" y2="1696.70" stroke="#000" stroke-width="7.7"/>
<circle cx="1675.8" cy="1696.7" r="3.85"/>
<path d="M1648.4,1977.6 L1648.4,1710.4 L1685.0,1710.4 L1685.0,1977.6" fill="#8a8a8a" stroke="#000" stroke-width="8.0" stroke-linejoin="round"/>
<rect x="1652.4" y="1956.9" width="28.6" height="17" fill="#20203a" fill-opacity="0.055"/>
<line x1="1721.40" y1="1645.30" x2="1721.40" y2="1682.30" stroke="#000" stroke-width="7.6"/>
<line x1="1712.30" y1="1645.30" x2="1730.50" y2="1645.30" stroke="#000" stroke-width="7.7"/>
<circle cx="1730.5" cy="1645.3" r="3.85"/>
<path d="M1703.1,1977.6 L1703.1,1678.3 L1739.7,1678.3 L1739.7,1977.6" fill="#8a8a8a" stroke="#000" stroke-width="8.0" stroke-linejoin="round"/>
<rect x="1707.1" y="1956.9" width="28.6" height="17" fill="#20203a" fill-opacity="0.055"/>
<line x1="1776.20" y1="1632.60" x2="1776.20" y2="1669.90" stroke="#000" stroke-width="7.6"/>
<line x1="1767.10" y1="1632.60" x2="1785.30" y2="1632.60" stroke="#000" stroke-width="7.7"/>
<circle cx="1785.3" cy="1632.6" r="3.85"/>
<path d="M1757.9,1977.6 L1757.9,1665.9 L1794.5,1665.9 L1794.5,1977.6" fill="#686868" stroke="#000" stroke-width="8.0" stroke-linejoin="round"/>
<rect x="1761.9" y="1956.9" width="28.6" height="17" fill="#20203a" fill-opacity="0.055"/>
<line x1="1830.90" y1="1681.50" x2="1830.90" y2="1693.20" stroke="#000" stroke-width="7.6"/>
<line x1="1821.80" y1="1681.50" x2="1840.00" y2="1681.50" stroke="#000" stroke-width="7.7"/>
<circle cx="1840.0" cy="1681.5" r="3.85"/>
<path d="M1812.6,1977.6 L1812.6,1689.2 L1849.2,1689.2 L1849.2,1977.6" fill="#686868" stroke="#000" stroke-width="8.0" stroke-linejoin="round"/>
<rect x="1816.6" y="1956.9" width="28.6" height="17" fill="#20203a" fill-opacity="0.055"/>
<line x1="1885.60" y1="1696.90" x2="1885.60" y2="1736.30" stroke="#000" stroke-width="7.6"/>
<line x1="1876.50" y1="1696.90" x2="1894.70" y2="1696.90" stroke="#000" stroke-width="7.7"/>
<circle cx="1894.7" cy="1696.9" r="3.85"/>
<path d="M1867.3,1977.6 L1867.3,1732.3 L1903.9,1732.3 L1903.9,1977.6" fill="#303030" stroke="#000" stroke-width="8.0" stroke-linejoin="round"/>
<rect x="1871.3" y="1956.9" width="28.6" height="17" fill="#20203a" fill-opacity="0.055"/>
<line x1="1939.90" y1="1651.00" x2="1939.90" y2="1685.80" stroke="#000" stroke-width="7.6"/>
<line x1="1930.80" y1="1651.00" x2="1949.00" y2="1651.00" stroke="#000" stroke-width="7.7"/>
<circle cx="1949.0" cy="1651.0" r="3.85"/>
<path d="M1921.6,1977.6 L1921.6,1681.8 L1958.2,1681.8 L1958.2,1977.6" fill="#303030" stroke="#000" stroke-width="8.0" stroke-linejoin="round"/>
<rect x="1925.6" y="1956.9" width="28.6" height="17" fill="#20203a" fill-opacity="0.055"/>
<line x1="1994.60" y1="1627.70" x2="1994.60" y2="1686.90" stroke="#000" stroke-width="7.6"/>
<line x1="1985.50" y1="1627.70" x2="2003.70" y2="1627.70" stroke="#000" stroke-width="7.7"/>
<circle cx="2003.7" cy="1627.7" r="3.85"/>
<path d="M1976.3,1977.6 L1976.3,1682.9 L2012.9,1682.9 L2012.9,1977.6" fill="#000" stroke="#000" stroke-width="8.0" stroke-linejoin="round"/>
<path d="M2031.2,1977.6 L2031.2,1645.4 L2067.8,1645.4 L2067.8,1977.6" fill="#000" stroke="#000" stroke-width="8.0" stroke-linejoin="round"/>
<line x1="1308.90" y1="1463.30" x2="1308.90" y2="1981.80" stroke="#000" stroke-width="8.1"/>
<line x1="1299.05" y1="1977.60" x2="2082.20" y2="1977.60" stroke="#000" stroke-width="8.4"/>
<line x1="1299.05" y1="1977.60" x2="1308.90" y2="1977.60" stroke="#000" stroke-width="8.0"/>
<text x="1230.90" y="1993.42" font-size="46.00">0.0</text>
<line x1="1299.05" y1="1849.00" x2="1308.90" y2="1849.00" stroke="#000" stroke-width="8.0"/>
<text x="1230.92" y="1864.82" font-size="46.00">0.5</text>
<line x1="1299.05" y1="1720.40" x2="1308.90" y2="1720.40" stroke="#000" stroke-width="8.0"/>
<text x="1230.90" y="1736.22" font-size="46.00">1.0</text>
<line x1="1299.05" y1="1591.80" x2="1308.90" y2="1591.80" stroke="#000" stroke-width="8.0"/>
<text x="1230.92" y="1607.62" font-size="46.00">1.5</text>
<line x1="1299.05" y1="1463.20" x2="1308.90" y2="1463.20" stroke="#000" stroke-width="8.0"/>
<text x="1230.90" y="1479.02" font-size="46.00">2.0</text>
<text x="1171.48" y="2019.96" font-size="35.40">Peptide</text>
<text x="1162.65" y="2062.87" font-size="35.40">(1 µg/ml)</text>
<text x="1332.41" y="2041.60" font-size="35.40">-</text>
<text x="1386.41" y="2041.60" font-size="35.40">-</text>
<text x="1437.26" y="2041.60" font-size="35.40">1</text>
<text x="1492.67" y="2041.60" font-size="35.40">2</text>
<text x="1546.80" y="2041.60" font-size="35.40">3</text>
<text x="1601.80" y="2041.60" font-size="35.40">4</text>
<text x="1656.53" y="2041.60" font-size="35.40">5</text>
<text x="1711.53" y="2041.60" font-size="35.40">6</text>
<text x="1765.28" y="2041.60" font-size="35.40">7</text>
<text x="1820.63" y="2041.60" font-size="35.40">8</text>
<text x="1875.08" y="2041.60" font-size="35.40">9</text>
<text x="1919.85" y="2041.60" font-size="35.40">10</text>
<text x="1974.61" y="2041.60" font-size="35.40">11</text>
<text x="2029.65" y="2041.60" font-size="35.40">12</text>
<text x="1155.61" y="1849.79" font-size="35.40" transform="rotate(-90 1155.61 1849.79)">Relative ABCG8</text>
<text x="1197.66" y="1867.87" font-size="35.40" transform="rotate(-90 1197.66 1867.87)">mRNA expression</text>
<polyline points="1336.0,1655.9 1336.0,1452.4 1611.3,1452.4 1611.3,1489.4" fill="none" stroke="#000" stroke-width="5.5" stroke-linejoin="miter"/>
<text x="1467.91" y="1446.05" font-size="41">*</text>
</svg>
</body></html>
